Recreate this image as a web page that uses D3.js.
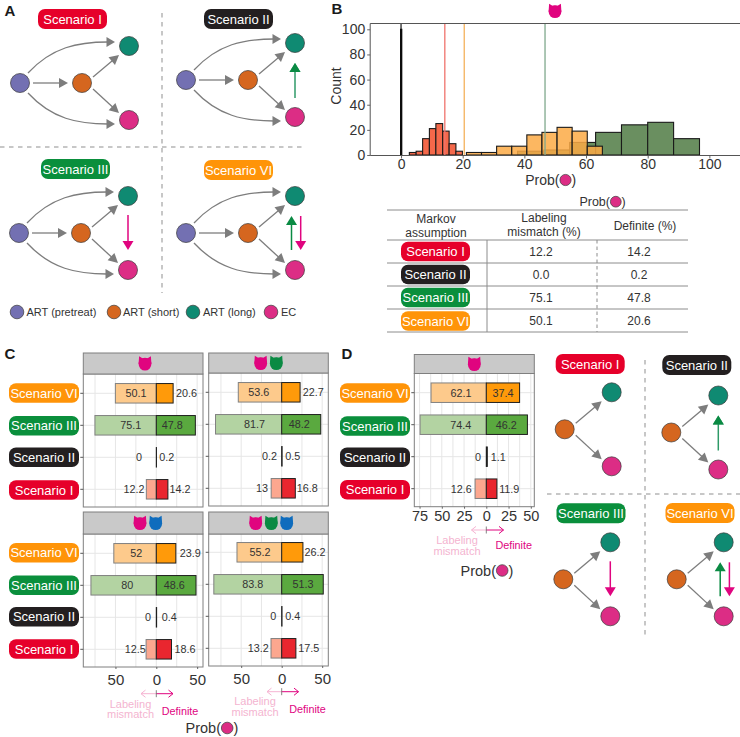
<!DOCTYPE html>
<html><head><meta charset="utf-8">
<script src="https://cdn.jsdelivr.net/npm/d3@7"></script>
<style>html,body{margin:0;padding:0;background:#fff}svg{display:block}text{font-family:"Liberation Sans",Arial,sans-serif}</style>
</head><body><svg id="c" width="740" height="737"></svg>
<script>
// ---------- data ----------
const scenarios = ["Scenario VI", "Scenario III", "Scenario II", "Scenario I"];
const mismatchC1 = [50.1, 75.1, 0, 12.2];
const definiteC1 = [20.6, 47.8, 0.2, 14.2];
const mismatchC2 = [53.6, 81.7, 0.2, 13];
const definiteC2 = [22.7, 48.2, 0.5, 16.8];
const mismatchC3 = [52, 80, 0, 12.5];
const definiteC3 = [23.9, 48.6, 0.4, 18.6];
const mismatchC4 = [55.2, 83.8, 0, 13.2];
const definiteC4 = [26.2, 51.3, 0.4, 17.5];
const mismatchD = [62.1, 74.4, 0, 12.6];
const definiteD = [37.4, 46.2, 1.1, 11.9];
const tableRows = ["Scenario I", "Scenario II", "Scenario III", "Scenario VI"];
const tableMismatch = ["12.2", "0.0", "75.1", "50.1"];
const tableDefinite = ["14.2", "0.2", "47.8", "20.6"];
const histRedEdges = [2.7, 4.9, 7.0, 9.2, 11.3, 13.5, 15.6, 17.8, 19.9];
const histRedCounts = [2, 3, 13, 21, 25, 19, 9, 3];
const histOrangeEdges = [21.2, 26.1, 31, 35.9, 40.8, 45.7, 50.6, 55.5, 60.4, 65.3];
const histOrangeCounts = [2, 2, 7, 7, 16, 18, 22, 19, 7];
const histGreenEdges = [37.8, 46.3, 54.7, 63.1, 71.5, 80, 88.4, 96.8];
const histGreenCounts = [3, 4, 10, 18, 24, 26, 13];
const histBlackEdges = [-0.15, 0.25];
const histBlackCounts = [100];
const histMeans = [14.2, 20.5, 46.7, 0];
const histTicks = [0, 20, 40, 60, 80, 100];
const countTicks = [0, 20, 40, 60, 80, 100];
const legendLabels = ["ART (pretreat)", "ART (short)", "ART (long)", "EC"];

// ---------- palette ----------
const pillCol = {"Scenario I":"#e6002a","Scenario II":"#231f20","Scenario III":"#0a8f3c","Scenario VI":"#ff9408"};
const leftCol = {"Scenario I":"#fca78f","Scenario II":"#222","Scenario III":"#b3d3a2","Scenario VI":"#fdca8c"};
const rightCol = {"Scenario I":"#e9262f","Scenario II":"#111","Scenario III":"#5aa93f","Scenario VI":"#ff9a0a"};
const NODE = {p:"#7370b2",o:"#d5661f",t:"#0f8a72",e:"#dc2d85"};
const PINK="#e0047f", GREEN="#0a8a43", BLUE="#0f6cbd", GRAY="#7d7d7d", TXT="#333";

const svg = d3.select("#c");
svg.append("rect").attr("width",740).attr("height",737).attr("fill","#fff");

function txt(g,x,y,s,size,opt={}){
  return g.append("text").attr("x",x).attr("y",y).attr("text-anchor",opt.anchor||"middle")
    .attr("dominant-baseline","central").attr("font-size",size).attr("fill",opt.fill||TXT)
    .attr("font-weight",opt.weight||"normal").text(s);
}
function twoLine(g,x,y,a,b,gap,size,fill){
  const t=g.append("text").attr("text-anchor","middle").attr("font-size",size).attr("fill",fill||TXT);
  t.append("tspan").attr("x",x).attr("y",y+size*0.35).text(a);
  t.append("tspan").attr("x",x).attr("y",y+gap+size*0.35).text(b);
}
function pill(g,cx,cy,name,w=69,h=20){
  g.append("rect").attr("x",cx-w/2).attr("y",cy-h/2).attr("width",w).attr("height",h).attr("rx",7)
    .attr("fill",pillCol[name]);
  txt(g,cx,cy,name,13,{fill:"#fff"});
}
function head(g,tx,ty,ang,col,L=9,W=10){
  const c=Math.cos(ang),s=Math.sin(ang);
  const pts=[[tx,ty],[tx-L*c-W/2*s,ty-L*s+W/2*c],[tx-L*c+W/2*s,ty-L*s-W/2*c]];
  g.append("polygon").attr("points",pts.map(p=>p.join(",")).join(" ")).attr("fill",col);
}
function arrow(g,x1,y1,x2,y2,col,sw=1.3,L=9,W=10){
  const a=Math.atan2(y2-y1,x2-x1);
  g.append("line").attr("x1",x1).attr("y1",y1).attr("x2",x2-L*0.8*Math.cos(a)).attr("y2",y2-L*0.8*Math.sin(a))
    .attr("stroke",col).attr("stroke-width",sw);
  head(g,x2,y2,a,col,L,W);
}
function node(g,x,y,c,r=9.5){
  g.append("circle").attr("cx",x).attr("cy",y).attr("r",r).attr("fill",c).attr("stroke","#3a3a3a").attr("stroke-width",0.7);
}
function cat(g,cx,cy,col,r=6.4){
  g.append("circle").attr("cx",cx).attr("cy",cy+0.6).attr("r",r).attr("fill",col);
  g.append("path").attr("fill",col).attr("d",
    `M${cx-r},${cy+0.6} L${cx-r+0.5},${cy-7.2} L${cx-2.6},${cy-5.2} L${cx+2.6},${cy-5.2} L${cx+r-0.5},${cy-7.2} L${cx+r},${cy+0.6} Z`);
}
function network(g,ox,oy,mode,withPurple){
  const tx=ox+47, ty=oy-37, ey=oy+37;
  if(withPurple){
    const c=(d)=>{g.append("path").attr("fill","none").attr("stroke",GRAY).attr("stroke-width",1.3)
      .attr("d",`M${ox-54},${oy-10*d} C${ox-30},${oy-36*d} ${ox-4},${oy-41*d} ${ox+26},${oy-41*d}`);
      head(g,ox+33,oy-41*d,0,GRAY,8.5,10);};
    c(1);c(-1);
    arrow(g,ox-49,oy,ox-14,oy,GRAY,1.3,9,10);
    node(g,ox-62,oy,NODE.p);
  }
  arrow(g,ox+11,oy-6,ox+37,oy-28,GRAY,1.3,9.5,10);
  arrow(g,ox+11,oy+6,ox+37,oy+30,GRAY,1.3,9.5,10);
  node(g,ox,oy,NODE.o); node(g,tx,ty,NODE.t); node(g,tx,ey,NODE.e);
  if(mode==="II") arrow(g,tx,ey-19,tx,ty+20,"#2f9a68",1.5,9,11),head(g,tx,ty+20,-Math.PI/2,GREEN,9,11);
  if(mode==="III") arrow(g,tx,ty+19,tx,ey-20,PINK,1.5,9,11);
  if(mode==="VI"){
    arrow(g,tx-3.5,ey-20,tx-3.5,ty+20,GREEN,1.5,9,11);
    arrow(g,tx+5.7,ty+20,tx+5.7,ey-20,PINK,1.5,9,11);
  }
}
function dash(g,x1,y1,x2,y2){
  g.append("line").attr("x1",x1).attr("y1",y1).attr("x2",x2).attr("y2",y2)
    .attr("stroke","#8f8f8f").attr("stroke-width",1).attr("stroke-dasharray","4.5 4.5");
}
function probLabel(g,cx,cy,size=14,r=5.6){
  g.append("text").attr("x",cx+1).attr("y",cy).attr("text-anchor","end").attr("dominant-baseline","central")
    .attr("font-size",size).attr("fill",TXT).text("Prob(");
  node(g,cx+1+r+0.4,cy,NODE.e,r);
  g.append("text").attr("x",cx+1+2*r+0.8).attr("y",cy).attr("dominant-baseline","central")
    .attr("font-size",size).attr("fill",TXT).text(")");
}
function styleAxis(a,size){
  a.select(".domain").remove();
  a.selectAll("text").attr("font-size",size).attr("fill",TXT).attr("font-family",'"Liberation Sans",Arial,sans-serif');
  a.selectAll("line").attr("stroke","#555").attr("stroke-width",0.9);
}

// ---------- panel letters ----------
[["A",10,10],["B",337,8],["C",10,353],["D",347,353]].forEach(d=>txt(svg,d[1],d[2],d[0],15,{fill:"#1a1a1a",weight:"bold"}));

// ---------- panel A ----------
const A=svg.append("g");
dash(A,162,13,162,293); dash(A,0,147,305,147);
[["Scenario I",72.5,19,82,83,"I"],["Scenario II",238.5,19,248,80,"II"],
 ["Scenario III",75.5,169,81,233,"III"],["Scenario VI",238.5,170,248,233,"VI"]].forEach(d=>{
  pill(A,d[1],d[2],d[0]); network(A,d[3],d[4],d[5],true);
});
[[17,NODE.p,26.5],[114,NODE.o,123],[193,NODE.t,203],[271,NODE.e,281]].forEach((d,i)=>{
  node(A,d[0],312,d[1],6.8);
  txt(A,d[2],312,legendLabels[i],11,{anchor:"start"});
});

// ---------- panel B histogram ----------
const B=svg.append("g");
const bx=d3.scaleLinear().domain([-10,110]).range([370.2,740.2]);
const by=d3.scaleLinear().domain([0,100]).range([155,29.3]);
function bars(edges,counts,fill,op){
  B.append("g").selectAll("rect").data(counts).join("rect")
    .attr("x",(d,i)=>bx(edges[i])).attr("width",(d,i)=>bx(edges[i+1])-bx(edges[i]))
    .attr("y",d=>by(d)).attr("height",d=>by(0)-by(d))
    .attr("fill",fill).attr("fill-opacity",op).attr("stroke","#1a1a1a").attr("stroke-width",1.1);
}
bars(histGreenEdges,histGreenCounts,"#6a8f60",1);
bars(histRedEdges,histRedCounts,"#f4684a",1);
bars(histOrangeEdges,histOrangeCounts,"#fbaa45",0.85);
bars(histBlackEdges,histBlackCounts,"#000",1);
["#f0736c","#f4b25c","#7fa88c","#000"].forEach((c,i)=>{
  B.append("line").attr("x1",bx(histMeans[i])).attr("x2",bx(histMeans[i])).attr("y1",23.5).attr("y2",155)
   .attr("stroke",c).attr("stroke-width",i==3?1.1:1.3);
});
B.append("path").attr("fill","none").attr("stroke","#555").attr("stroke-width",1)
  .attr("d","M740,23.5 H370.2 V155.5 H740");
const bxa=B.append("g").attr("transform","translate(0,155.5)").call(d3.axisBottom(bx).tickValues(histTicks).tickSize(3).tickPadding(1));
styleAxis(bxa,14);
const bya=B.append("g").attr("transform","translate(370.2,0)").call(d3.axisLeft(by).tickValues(countTicks).tickSize(3).tickPadding(2));
styleAxis(bya,14);
B.append("text").attr("transform","translate(336,86) rotate(-90)").attr("text-anchor","middle").attr("dominant-baseline","central")
  .attr("font-size",14).attr("fill",TXT).text("Count");
probLabel(B,558.5,180,14,5.6);
cat(B,555,11,PINK);

// ---------- table ----------
const T=svg.append("g");
probLabel(T,609,201.7,12.5,5.4);
[210,240,263,286,309,332].forEach(y=>T.append("line").attr("x1",387).attr("x2",688).attr("y1",y).attr("y2",y).attr("stroke","#8c8c8c").attr("stroke-width",1));
T.append("line").attr("x1",487).attr("x2",487).attr("y1",240).attr("y2",332).attr("stroke","#8c8c8c");
T.append("line").attr("x1",597).attr("x2",597).attr("y1",240).attr("y2",332).attr("stroke","#8c8c8c").attr("stroke-dasharray","3.5 3");
twoLine(T,436,219,"Markov","assumption",13.5,12);
twoLine(T,544,218,"Labeling","mismatch (%)",14,12);
txt(T,645,226,"Definite (%)",12);
tableRows.forEach((s,i)=>{
  const y=252+i*23;
  pill(T,435.5,y-0.5+(i==3?0.5:0),s,69,19.5);
  txt(T,541,y,tableMismatch[i],12);
  txt(T,639,y,tableDefinite[i],12);
});

// ---------- facets ----------
function facet(cfg){
  const g=svg.append("g");
  const {x0,x1,zero,k,stripT,stripB,bottom,rowTop,mis,def,cats,ticks,grid,labL,labR,tickSize}=cfg;
  const x=d3.scaleLinear().domain([(x0-zero)/k,(x1-zero)/k]).range([x0,x1]);
  const y=d3.scalePoint().domain(scenarios).range([rowTop,rowTop+96]);
  grid.forEach(v=>g.append("line").attr("x1",x(v)).attr("x2",x(v)).attr("y1",stripB).attr("y2",bottom).attr("stroke","#e6e6e6").attr("stroke-width",1));
  scenarios.forEach(s=>g.append("line").attr("x1",x0).attr("x2",x1).attr("y1",y(s)).attr("y2",y(s)).attr("stroke","#e6e6e6").attr("stroke-width",1));
  const h=19.5;
  g.append("g").selectAll("rect").data(mis).join("rect")
    .attr("x",d=>x(-d)).attr("width",d=>x(0)-x(-d)).attr("y",(d,i)=>y(scenarios[i])-h/2).attr("height",h)
    .attr("fill",(d,i)=>leftCol[scenarios[i]]).attr("stroke",(d,i)=>i==2?"none":"#808080").attr("stroke-width",1);
  g.append("g").selectAll("rect").data(def).join("rect")
    .attr("x",x(0)).attr("width",d=>x(d)-x(0)).attr("y",(d,i)=>y(scenarios[i])-h/2).attr("height",h)
    .attr("fill",(d,i)=>rightCol[scenarios[i]]).attr("stroke","#1f1f1f").attr("stroke-width",1);
  mis.forEach((v,i)=>txt(g,x(labL[i]),y(scenarios[i]),String(v),10.8));
  def.forEach((v,i)=>txt(g,x(labR[i]),y(scenarios[i]),String(v),10.8));
  g.append("rect").attr("x",x0).attr("y",stripB).attr("width",x1-x0).attr("height",bottom-stripB).attr("fill","none").attr("stroke","#7f7f7f").attr("stroke-width",1);
  g.append("rect").attr("x",x0).attr("y",stripT).attr("width",x1-x0).attr("height",stripB-stripT).attr("fill","#c9c9c9").attr("stroke","#7f7f7f").attr("stroke-width",1);
  cats.forEach(c=>cat(g,c[0],(stripT+stripB)/2+c[2],c[1]));
  if(cfg.axis){
    const a=g.append("g").attr("transform",`translate(0,${bottom})`)
      .call(d3.axisBottom(x).tickValues(ticks).tickFormat(v=>Math.abs(v)).tickSize(2).tickPadding(cfg.pad));
    styleAxis(a,tickSize);
  }
  scenarios.forEach(s=>g.append("line").attr("x1",x0-3).attr("x2",x0).attr("y1",y(s)).attr("y2",y(s)).attr("stroke","#555"));
  return {g,x,y};
}
const gridC=[-75,-50,-25,0,25,50];
const fkC={k:0.817,grid:gridC,ticks:[-50,0,50],tickSize:15,pad:5};

facet({...fkC,x0:83.3,x1:203,zero:156.3,stripT:353,stripB:374,bottom:507,rowTop:393.3,mis:mismatchC1,def:definiteC1,
  cats:[[145,PINK,0]],labL:[-24.9,-31.4,-21.2,-27.3],labR:[37.1,19.6,12.7,29]});
facet({...fkC,k:0.81,x0:208.7,x1:328.3,zero:281.7,stripT:353,stripB:373,bottom:506,rowTop:392.3,mis:mismatchC2,def:definiteC2,
  cats:[[260.7,PINK,0],[276.3,GREEN,0]],labL:[-28.4,-33.7,-15.2,-24.3],labR:[39.1,21.8,13.6,31.7]});
facet({...fkC,axis:true,x0:83.3,x1:203,zero:156.3,stripT:512,stripB:534,bottom:667,rowTop:553.3,mis:mismatchC3,def:definiteC3,
  cats:[[140,PINK,0],[155.7,BLUE,0]],labL:[-24.5,-35.5,-10.2,-25.7],labR:[41.6,22,15.9,35.1]});
facet({...fkC,axis:true,k:0.81,x0:208.7,x1:328.3,zero:281.7,stripT:512,stripB:534,bottom:666,rowTop:552.3,mis:mismatchC4,def:definiteC4,
  cats:[[255.7,PINK,0],[271.3,GREEN,0],[286.7,BLUE,0]],labL:[-26.7,-35.8,-10.3,-28.8],labR:[41.2,26.3,13.6,33.3]});
facet({axis:true,pad:2,k:0.89,grid:[-75,-62.5,-50,-37.5,-25,-12.5,0,12.5,25,37.5,50],ticks:[-75,-50,-25,0,25,50],tickSize:14.5,
  x0:414.3,x1:534.3,zero:486.3,stripT:354.5,stripB:373.5,bottom:506.7,rowTop:392.7,mis:mismatchD,def:definiteD,
  cats:[[474.3,PINK,0]],labL:[-28.5,-28.8,-9.4,-28.1],labR:[18.7,22.5,13.5,25.8]});

// facet pills
const P=svg.append("g");
[393,425.8,457.2,490,552.7,585.3,616.7,649].forEach((y,i)=>pill(P,44,y,scenarios[i%4],70,19.5));
[393,426,457.3,489.7].forEach((y,i)=>pill(P,375,y,scenarios[i],70,19.5));

// direction arrows
function dir(g,zero,yy,xl,xr,labX,labY,defX,defY){
  const lp="#f6b3d2";
  const open=(x,col,d)=>g.append("path").attr("fill","none").attr("stroke",col).attr("stroke-width",1)
    .attr("d",`M${x+4.5*d},${yy-3.6} L${x},${yy} L${x+4.5*d},${yy+3.6}`);
  g.append("line").attr("x1",xl).attr("x2",zero).attr("y1",yy).attr("y2",yy).attr("stroke",lp).attr("stroke-width",1);
  g.append("line").attr("x1",zero).attr("x2",xr).attr("y1",yy).attr("y2",yy).attr("stroke",PINK).attr("stroke-width",1);
  open(xl,lp,1); open(xr,PINK,-1);
  g.append("line").attr("x1",zero).attr("x2",zero).attr("y1",yy-3.5).attr("y2",yy+3.5).attr("stroke","#666").attr("stroke-width",0.8);
  twoLine(g,labX,labY,"Labeling","mismatch",10.4,11,"#f4b4d0");
  txt(g,defX,defY,"Definite",10.8,{fill:PINK});
}
const Dr=svg.append("g");
dir(Dr,156.3,693.7,141,173,130.5,704,180,710.5);
dir(Dr,281.7,691.7,267,298.5,255,701.5,307.5,709);
dir(Dr,486.3,530,471.5,503.5,457,540.5,513.7,545);
probLabel(Dr,220,728,14.5,5.8);
probLabel(Dr,495,570.5,14.5,5.8);

// ---------- panel D networks ----------
const N=svg.append("g");
dash(N,645,360,645,638); dash(N,547,494,740,494);
[["Scenario I",590.2,364,564.7,429.3,"I"],["Scenario II",696.8,365,671.3,432.5,"II"],
 ["Scenario III",591,513.3,563.3,579.3,"III"],["Scenario VI",700,513,676.7,579.3,"VI"]].forEach(d=>{
  pill(N,d[1],d[2],d[0]); network(N,d[3],d[4],d[5],false);
});
</script></body></html>
